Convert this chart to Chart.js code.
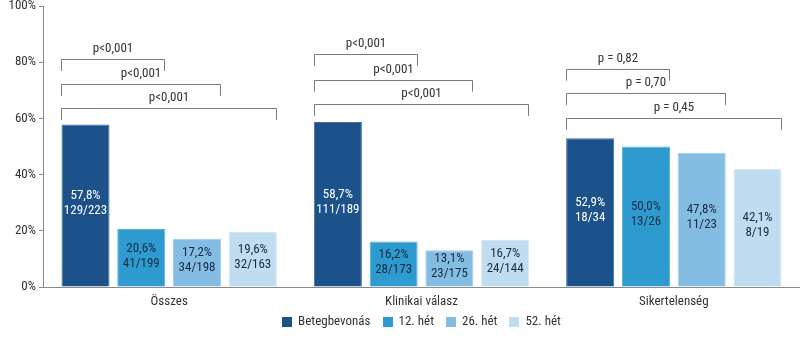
<!DOCTYPE html>
<html>
<head>
<meta charset="utf-8">
<script src="https://cdn.jsdelivr.net/npm/chart.js@4"></script>
<style>
  html, body { margin: 0; padding: 0; background: #fff; }
  #wrap { width: 800px; height: 347px; }
</style>
</head>
<body>
<div id="wrap"><canvas id="chart"></canvas></div>
<script>
// categories and series
const categories = ['Összes', 'Klinikai válasz', 'Sikertelenség'];
const seriesNames = ['Betegbevonás', '12. hét', '26. hét', '52. hét'];
const seriesColors = ['#1c5289', '#2e9bd0', '#84bde4', '#c0dcf1'];
const seriesBorders = ['#3a6da3', '#55b0dc', '#a0cdec', '#d3e7f6'];
const labelColors = ['#ffffff', '#1a2a44', '#1a2a44', '#1a2a44'];

const baseline = [57.8, 58.7, 52.9];
const week12 = [20.6, 16.2, 50.0];
const week26 = [17.2, 13.1, 47.8];
const week52 = [19.6, 16.7, 42.1];

const baselineN = ['129/223', '111/189', '18/34'];
const week12N = ['41/199', '28/173', '13/26'];
const week26N = ['34/198', '23/175', '11/23'];
const week52N = ['32/163', '24/144', '8/19'];

// p-value brackets: per category, heights (%) for 12/26/52 vs baseline
const bracketLevels = [[81.2, 72.3, 63.8], [83.0, 73.8, 65.2], [77.7, 69.1, 60.3]];
const pLabels = [
  ['p<0,001', 'p<0,001', 'p<0,001'],
  ['p<0,001', 'p<0,001', 'p<0,001'],
  ['p = 0,82', 'p = 0,70', 'p = 0,45']
];

const FONT = "'Roboto Condensed', 'Liberation Sans', sans-serif";
const TEXT = '#333333';
const AXIS = '#8a8a8a';

const allValues = [baseline, week12, week26, week52];
const allCounts = [baselineN, week12N, week26N, week52N];

const fmtPct = v => v.toFixed(1).replace('.', ',') + '%';

const barLabels = {
  id: 'barLabels',
  afterDatasetsDraw(chart) {
    const ctx = chart.ctx;
    ctx.save();
    ctx.font = '13px ' + FONT;
    ctx.textAlign = 'center';
    ctx.textBaseline = 'middle';
    chart.data.datasets.forEach((ds, di) => {
      const meta = chart.getDatasetMeta(di);
      meta.data.forEach((bar, i) => {
        const mid = (bar.y + bar.base) / 2 - 2;
        ctx.fillStyle = labelColors[di];
        ctx.fillText(fmtPct(allValues[di][i]), bar.x, mid - 7.5);
        ctx.fillText(allCounts[di][i], bar.x, mid + 7.5);
      });
    });
    ctx.restore();
  }
};

const brackets = {
  id: 'brackets',
  afterDatasetsDraw(chart) {
    const ctx = chart.ctx;
    const y = chart.scales.y;
    const first = chart.getDatasetMeta(0);
    ctx.save();
    ctx.strokeStyle = '#7a7a7a';
    ctx.lineWidth = 1;
    ctx.font = '13px ' + FONT;
    ctx.fillStyle = TEXT;
    ctx.textAlign = 'center';
    ctx.textBaseline = 'middle';
    categories.forEach((c, i) => {
      const b0 = first.data[i];
      const x1 = Math.round(b0.x - b0.width / 2) + 0.5;
      bracketLevels[i].forEach((lvl, j) => {
        const bt = chart.getDatasetMeta(j + 1).data[i];
        const x2 = Math.round(bt.x + bt.width / 2) - 0.5;
        const top = Math.round(y.getPixelForValue(lvl)) + 0.5;
        const leg = y.getPixelForValue(lvl - 4.3);
        ctx.beginPath();
        ctx.moveTo(x1, leg);
        ctx.lineTo(x1, top);
        ctx.lineTo(x2, top);
        ctx.lineTo(x2, leg);
        ctx.stroke();
        ctx.fillText(pLabels[i][j], (x1 + x2) / 2, top - 11);
      });
    });
    ctx.restore();
  }
};

const legendBox = {
  id: 'legendBox',
  afterDraw(chart) {
    const ctx = chart.ctx;
    const area = chart.chartArea;
    ctx.save();
    ctx.font = '13px ' + FONT;
    ctx.textBaseline = 'middle';
    const box = 10, gap = 6, space = 12;
    const widths = seriesNames.map(n => box + gap + ctx.measureText(n).width);
    const total = widths.reduce((a, b) => a + b, 0) + space * (widths.length - 1);
    let x = (area.left + area.right) / 2 - total / 2;
    const yc = 322;
    seriesNames.forEach((n, k) => {
      ctx.fillStyle = seriesColors[k];
      ctx.fillRect(Math.round(x), yc - box / 2, box, box);
      ctx.fillStyle = TEXT;
      ctx.fillText(n, x + box + gap, yc);
      x += widths[k] + space;
    });
    ctx.restore();
  }
};

new Chart(document.getElementById('chart'), {
  type: 'bar',
  data: {
    labels: categories,
    datasets: seriesNames.map((name, k) => ({
      label: name,
      data: allValues[k],
      backgroundColor: seriesColors[k],
      borderColor: seriesBorders[k],
      borderWidth: { top: 1, left: 1, right: 1, bottom: 0 },
      categoryPercentage: 0.884,
      barPercentage: 0.862
    }))
  },
  options: {
    responsive: true,
    maintainAspectRatio: false,
    animation: false,
    layout: { padding: { top: 6, right: 0, bottom: 38, left: 0 } },
    plugins: {
      legend: { display: false },
      tooltip: { enabled: false }
    },
    scales: {
      x: {
        grid: { display: false, drawTicks: false },
        border: { display: true, color: AXIS, width: 1 },
        ticks: { color: TEXT, font: { family: FONT, size: 13 }, padding: 7 },
        afterFit: s => { s.height = 22; }
      },
      y: {
        min: 0,
        max: 100,
        ticks: {
          stepSize: 20,
          color: TEXT,
          font: { family: FONT, size: 13 },
          padding: 3,
          callback: v => v + '%'
        },
        grid: { drawOnChartArea: false, drawTicks: true, tickLength: 4, color: AXIS },
        border: { display: true, color: AXIS, width: 1 },
        afterFit: s => { s.width = 43; s.paddingTop = 0; s.paddingBottom = 0; }
      }
    }
  },
  plugins: [barLabels, brackets, legendBox]
});
</script>
</body>
</html>
